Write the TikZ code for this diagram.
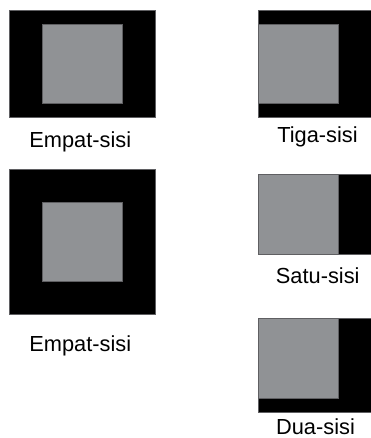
\documentclass[tikz,border=0pt]{standalone}
\usepackage{fontspec}
\setmainfont{Liberation Sans}
\usepackage{tikz}
\usetikzlibrary{positioning}
\definecolor{panelgray}{RGB}{144,146,149}
\definecolor{edgegray}{RGB}{95,95,98}
\tikzset{
  blackbox/.style={fill=black,draw=edgegray,line width=0.6pt},
  graybox/.style={fill=panelgray,draw=edgegray,line width=0.6pt},
  caption/.style={anchor=base,inner sep=0pt,font=\fontsize{21.8}{26}\selectfont}
}
\begin{document}
\begin{tikzpicture}[x=1pt,y=-1pt]
  \useasboundingbox (0,0) rectangle (370,438);
  % Empat-sisi (atas)
  \draw[blackbox] (9.3,10.3) rectangle (155.3,117.7);
  \draw[graybox] (42.7,24) rectangle (122.3,103.7);
  \node[caption] (empatA) at (80.3,148) {Empat-sisi};
  % Empat-sisi (bawah)
  \draw[blackbox] (9.3,169) rectangle (155.3,314.3);
  \draw[graybox] (42.7,202.3) rectangle (122.3,281.7);
  \node[caption] (empatB) at (80.3,351) {Empat-sisi};
  % Tiga-sisi
  \draw[blackbox] (258.3,10.3) rectangle (374,117.7);
  \draw[graybox] (258.3,24) rectangle (338.7,103.7);
  \node[caption] (tiga) at (317.5,143) {Tiga-sisi};
  % Satu-sisi
  \draw[blackbox] (258.3,174) rectangle (374,254.3);
  \draw[graybox] (258.3,174) rectangle (338.7,254.3);
  \node[caption] (satu) at (317.7,283.5) {Satu-sisi};
  % Dua-sisi
  \draw[blackbox] (258.3,318.7) rectangle (374,412);
  \draw[graybox] (258.3,318.7) rectangle (338.7,398.3);
  \node[caption] (dua) at (315.5,434) {Dua-sisi};
\end{tikzpicture}
\end{document}
